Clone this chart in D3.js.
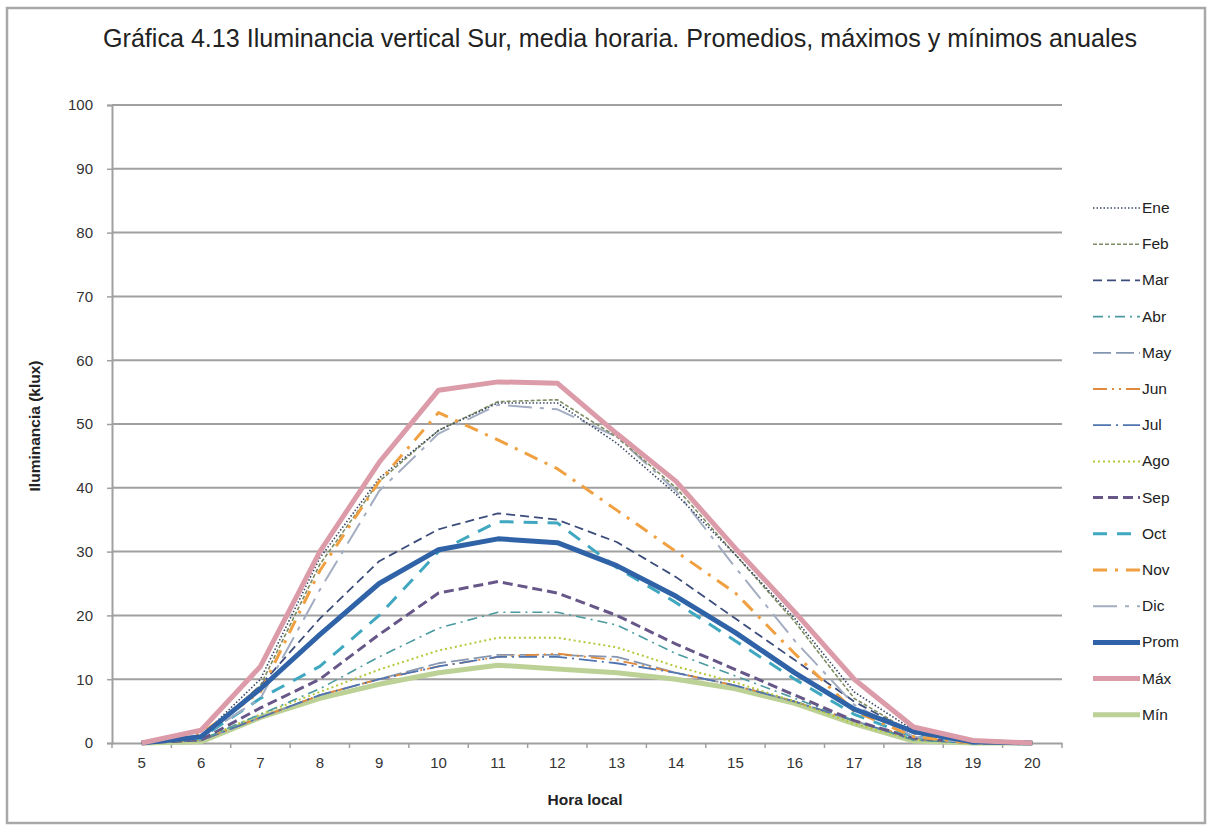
<!DOCTYPE html>
<html><head><meta charset="utf-8">
<script src="https://cdn.jsdelivr.net/npm/d3@7"></script>
<style>body{margin:0;background:#fff}svg{display:block}</style>
</head><body>
<script>
const hours = [5,6,7,8,9,10,11,12,13,14,15,16,17,18,19,20];
const yTicks = [0,10,20,30,40,50,60,70,80,90,100];
const seriesNames = ["Ene","Feb","Mar","Abr","May","Jun","Jul","Ago","Sep","Oct","Nov","Dic","Prom","Máx","Mín"];
const Ene  = [0,1,10,29,41.5,49,53.3,53.3,47,39,29.5,19.5,8,2,0.2,0];
const Feb  = [0,1,9,28,41,49,53.5,53.8,48,40,29.5,19,7,1.5,0.2,0];
const Mar  = [0,0.8,9,19.5,28.5,33.5,36,35,31.5,26,19.5,13,6.5,1.5,0.1,0];
const Abr  = [0,0.5,4.5,8.5,13.5,18,20.5,20.5,18.5,14,10.5,7,3.5,0.5,0,0];
const May  = [0,0.4,4,7.5,10,12.5,13.8,13.8,13.5,11,9,6.5,3.5,0.5,0,0];
const Jun  = [0,0.4,4,7.5,10,12,13.5,14,13,11,9,6.5,3.5,0.8,0,0];
const Jul  = [0,0.4,4,7.5,10,12,13.5,13.5,12.5,11,9,6.5,3.5,0.5,0,0];
const Ago  = [0,0.5,4.5,8,11.5,14.5,16.5,16.5,15,12,9.5,6.5,3,0.5,0,0];
const Sep  = [0,0.5,5.5,10,17,23.5,25.3,23.5,20,15.5,11.5,7.5,3.5,0.8,0,0];
const Oct  = [0,0.8,7,12,20,30,34.7,34.5,27.5,22,16,10,4.5,1,0,0];
const Nov  = [0,1.5,8,27,41,51.8,47.5,43,36.5,30,23.5,14,5,1,0,0];
const Dic  = [0,1,7,24,39.5,48.5,53,52.3,48,39.5,27.5,16,6,1,0,0];
const Prom = [0,1,8.5,17,25,30.3,32,31.4,27.8,23,17.3,11,5.3,1.8,0.2,0];
const Max  = [0,2,12,30,44,55.3,56.6,56.4,48.5,41,30.5,20.5,10,2.5,0.4,0];
const Min  = [0,0.2,4,7,9.2,11,12.2,11.6,11,10,8.5,6.2,3,0.3,0,0];
const seriesValues = [Ene,Feb,Mar,Abr,May,Jun,Jul,Ago,Sep,Oct,Nov,Dic,Prom,Max,Min];
const styles = [
  {c:"#3b4a66", w:1.6, d:"1.5,2"},
  {c:"#7d8c62", w:1.6, d:"4,2"},
  {c:"#3c4d7c", w:1.8, d:"9,5"},
  {c:"#4a9aa0", w:1.6, d:"10,5,2,5"},
  {c:"#8596b0", w:1.8, d:"18,5"},
  {c:"#e08a3c", w:1.8, d:"14,5,2,5,2,5"},
  {c:"#4f74b0", w:1.8, d:"18,5,2,5"},
  {c:"#b5c83a", w:2, d:"2,3"},
  {c:"#665788", w:3, d:"10,5"},
  {c:"#3fa8c0", w:3, d:"14,10"},
  {c:"#f0a040", w:3, d:"14,8,3,8"},
  {c:"#a3adc2", w:2, d:"24,8,4,8"},
  {c:"#2f62a6", w:5, d:null},
  {c:"#dc9ba8", w:5, d:null},
  {c:"#bcd196", w:5, d:null}
];

const W = 1208, H = 826;
const svg = d3.select("body").append("svg").attr("width", W).attr("height", H);
svg.append("rect").attr("x",7).attr("y",8).attr("width",1198).attr("height",815)
  .attr("fill","#fff").attr("stroke","#a8a8a8").attr("stroke-width",2.5);

const x = d3.scaleBand().domain(hours).range([112,1062]).padding(0);
const y = d3.scaleLinear().domain([0,100]).range([743,105]);

// gridlines
svg.append("g").selectAll("line").data(yTicks.slice(1)).join("line")
  .attr("x1",112).attr("x2",1062).attr("y1",d=>y(d)).attr("y2",d=>y(d))
  .attr("stroke","#a0a0a0").attr("stroke-width",2);

// y axis
const yAxis = svg.append("g").attr("transform","translate(112,0)")
  .call(d3.axisLeft(y).tickValues(yTicks).tickSize(5).tickPadding(14));
yAxis.select(".domain").attr("stroke","#a0a0a0").attr("stroke-width",2);
yAxis.selectAll(".tick line").attr("stroke","#a0a0a0").attr("stroke-width",1.5);
yAxis.selectAll("text").attr("font-family","Liberation Sans, Arial, sans-serif").attr("font-size",15).attr("fill","#333");

// x axis
const xAxis = svg.append("g").attr("transform","translate(0,743)")
  .call(d3.axisBottom(x).tickSize(0).tickPadding(14));
xAxis.select(".domain").attr("stroke","#a0a0a0").attr("stroke-width",2);
xAxis.selectAll("text").attr("font-family","Liberation Sans, Arial, sans-serif").attr("font-size",15).attr("fill","#333");
// tick marks between categories
svg.append("g").selectAll("line").data(hours.concat([21])).join("line")
  .attr("x1",(d,i)=>112+i*x.bandwidth()).attr("x2",(d,i)=>112+i*x.bandwidth())
  .attr("y1",743).attr("y2",748).attr("stroke","#a0a0a0").attr("stroke-width",1.5);

// lines
const line = d3.line().x((d,i)=>x(hours[i])+x.bandwidth()/2).y(d=>y(d)).curve(d3.curveLinear);
const drawOrder = [14,4,5,6,7,3,8,9,2,11,1,0,10,12,13];
svg.append("g").selectAll("path").data(drawOrder).join("path")
  .attr("d", i => line(seriesValues[i]))
  .attr("fill","none")
  .attr("stroke", i => styles[i].c)
  .attr("stroke-width", i => styles[i].w)
  .attr("stroke-dasharray", i => styles[i].d)
  .attr("stroke-linejoin","round");

// legend
const lg = svg.append("g");
seriesNames.forEach((n,i)=>{
  const yy = 208 + i*36.2;
  lg.append("line").attr("x1",1093).attr("x2",1140).attr("y1",yy).attr("y2",yy)
    .attr("stroke",styles[i].c).attr("stroke-width",styles[i].w)
    .attr("stroke-dasharray",styles[i].d);
  lg.append("text").attr("x",1142).attr("y",yy+5).text(n)
    .attr("font-family","Liberation Sans, Arial, sans-serif").attr("font-size",15.5).attr("fill","#222");
});

// titles
svg.append("text").attr("x",103).attr("y",47)
  .attr("font-family","Liberation Sans Narrow, Arial Narrow, Liberation Sans, sans-serif").attr("font-size",26.5).attr("fill","#222")
  .attr("textLength",1034).attr("lengthAdjust","spacingAndGlyphs")
  .text("Gráfica 4.13 Iluminancia vertical Sur, media horaria. Promedios, máximos y mínimos anuales");
svg.append("text").attr("transform","translate(40,426) rotate(-90)").attr("text-anchor","middle")
  .attr("font-family","Liberation Sans, Arial, sans-serif").attr("font-size",15.5).attr("font-weight","bold").attr("fill","#222")
  .text("Iluminancia (klux)");
svg.append("text").attr("x",585).attr("y",805).attr("text-anchor","middle")
  .attr("font-family","Liberation Sans, Arial, sans-serif").attr("font-size",15.5).attr("font-weight","bold").attr("fill","#222")
  .text("Hora local");
</script>
</body></html>
